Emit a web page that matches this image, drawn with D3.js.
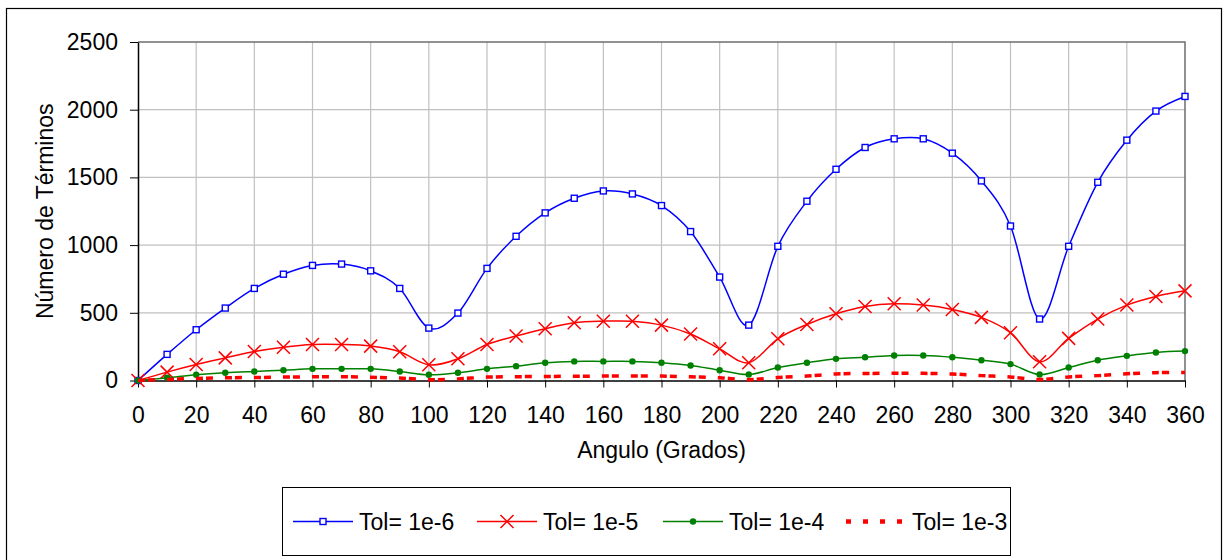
<!DOCTYPE html>
<html>
<head>
<meta charset="utf-8">
<script src="https://cdn.jsdelivr.net/npm/d3@7"></script>
<style>
  html, body { margin: 0; padding: 0; background: #fff; }
  svg { display: block; font-family: "Liberation Sans", Arial, sans-serif; }
</style>
</head>
<body>
<svg id="chart" width="1223" height="560"></svg>
<script>
// ---- data ----
const angles = [0,10,20,30,40,50,60,70,80,90,100,110,120,130,140,150,160,170,180,
                190,200,210,220,230,240,250,260,270,280,290,300,310,320,330,340,350,360];
const tol1e6 = [0,193,375,535,680,785,850,860,810,680,387,498,828,1065,1238,1346,1400,1378,1292,
                1100,764,409,991,1324,1560,1721,1785,1785,1679,1474,1141,454,991,1464,1775,1990,2098];
const tol1e5 = [0,62,118,167,214,246,266,266,254,212,116,160,266,328,382,426,438,438,409,
                343,234,131,308,414,493,547,567,557,525,466,353,138,311,454,557,621,662];
const tol1e4 = [0,20,42,57,67,76,86,86,86,67,42,57,86,106,131,141,141,141,131,
                111,76,44,96,131,160,172,185,185,172,150,121,44,96,150,182,207,217];
const tol1e3 = [0,8,15,20,22,25,27,28,24,18,6,12,25,28,30,31,33,33,33,
                27,20,6,22,33,48,52,53,53,48,36,26,7,26,36,50,58,60];
const seriesNames = ["Tol= 1e-6","Tol= 1e-5","Tol= 1e-4","Tol= 1e-3"];
const xTicks = [0,20,40,60,80,100,120,140,160,180,200,220,240,260,280,300,320,340,360];
const yTicks = [0,500,1000,1500,2000,2500];
const xTitle = "Angulo (Grados)";
const yTitle = "Número de Términos";

// ---- layout ----
const svg = d3.select("#chart");
const P = {left: 138, right: 1185, top: 42, bottom: 380.5};
const x = d3.scaleLinear().domain([0, 360]).range([P.left, P.right]);
const y = d3.scaleLinear().domain([0, 2500]).range([P.bottom, P.top]);
const FS = 23;

// outer frame
svg.append("rect").attr("x", 6.5).attr("y", 8.5).attr("width", 1215).attr("height", 560)
  .attr("fill", "#fff").attr("stroke", "#000").attr("stroke-width", 1.2);

// gridlines
const g = svg.append("g");
g.selectAll("line.vg").data(xTicks.filter(a => a > 0 && a < 360)).join("line")
  .attr("x1", d => x(d)).attr("x2", d => x(d)).attr("y1", P.top).attr("y2", P.bottom)
  .attr("stroke", "#c0c0c0").attr("stroke-width", 1.2);
g.selectAll("line.hg").data(yTicks.filter(v => v > 0 && v < 2500)).join("line")
  .attr("x1", P.left).attr("x2", P.right).attr("y1", d => y(d)).attr("y2", d => y(d))
  .attr("stroke", "#c0c0c0").attr("stroke-width", 1.2);

// plot border (top, right)
svg.append("path")
  .attr("d", `M${P.left},${P.top}H${P.right}V${P.bottom}`)
  .attr("fill", "none").attr("stroke", "#6e6e6e").attr("stroke-width", 1.5);

// axes
const xAxis = d3.axisBottom(x).tickValues(xTicks).tickFormat(d3.format("d"))
  .tickSize(7).tickPadding(19).tickSizeOuter(0);
const yAxis = d3.axisLeft(y).tickValues(yTicks).tickFormat(d3.format("d"))
  .tickSize(8).tickPadding(12).tickSizeOuter(0);
const gx = svg.append("g").attr("transform", `translate(0,${P.bottom})`).call(xAxis);
const gy = svg.append("g").attr("transform", `translate(${P.left},0)`).call(yAxis);
[gx, gy].forEach(a => {
  a.attr("font-size", FS).attr("font-family", "'Liberation Sans', Arial, sans-serif");
  a.selectAll("text").attr("fill", "#000");
  a.selectAll("line").attr("stroke", "#000");
  a.select(".domain").attr("stroke", "#000").attr("stroke-width", 1.5);
});

// titles
svg.append("text").attr("x", (P.left + P.right) / 2).attr("y", 458)
  .attr("text-anchor", "middle").attr("font-size", FS).text(xTitle);
svg.append("text").attr("transform", `translate(53,${(P.top + P.bottom) / 2}) rotate(-90)`)
  .attr("text-anchor", "middle").attr("font-size", FS).text(yTitle);

// series
const line = d3.line().x((d, i) => x(angles[i])).y(d => y(d)).curve(d3.curveCardinal.tension(0));
const plot = svg.append("g");

function drawMarker(sel, type, cx, cy) {
  if (type === "square") {
    sel.append("rect").attr("x", cx - 3).attr("y", cy - 3).attr("width", 6).attr("height", 6)
      .attr("fill", "#fff").attr("stroke", "#0000ff").attr("stroke-width", 1.4);
  } else if (type === "x") {
    const s = 6.5;
    sel.append("path").attr("d", `M${cx - s},${cy - s}L${cx + s},${cy + s}M${cx - s},${cy + s}L${cx + s},${cy - s}`)
      .attr("stroke", "#ff0000").attr("stroke-width", 1.5).attr("fill", "none");
  } else if (type === "dot") {
    sel.append("circle").attr("cx", cx).attr("cy", cy).attr("r", 3.2).attr("fill", "#008000");
  }
}

const specs = [
  {data: tol1e6, color: "#0000ff", width: 1.5, dash: null, marker: "square"},
  {data: tol1e5, color: "#ff0000", width: 1.5, dash: null, marker: "x"},
  {data: tol1e4, color: "#008000", width: 1.5, dash: null, marker: "dot"},
  {data: tol1e3, color: "#ff0000", width: 3.5, dash: "7,3,7,12", marker: null}
];

specs.forEach(s => {
  const p = plot.append("path").datum(s.data).attr("d", line)
    .attr("fill", "none").attr("stroke", s.color).attr("stroke-width", s.width);
  if (s.dash) p.attr("stroke-dasharray", s.dash);
  if (s.marker) {
    const mg = plot.append("g");
    s.data.forEach((v, i) => drawMarker(mg, s.marker, x(angles[i]), y(v)));
  }
});

// legend
const L = {x: 282.5, y: 487.5, w: 728, h: 68};
svg.append("rect").attr("x", L.x).attr("y", L.y).attr("width", L.w).attr("height", L.h)
  .attr("fill", "#fff").attr("stroke", "#000").attr("stroke-width", 1);
const legX = [293, 477, 663, 846];
const cyL = L.y + L.h / 2;
specs.forEach((s, i) => {
  const lg = svg.append("g");
  const x0 = legX[i], x1 = legX[i] + 60;
  const ln = lg.append("line").attr("x1", x0).attr("x2", x1).attr("y1", cyL).attr("y2", cyL)
    .attr("stroke", s.color).attr("stroke-width", s.width);
  if (s.dash) ln.attr("stroke-dasharray", "5,12").attr("stroke-width", 4.5);
  if (s.marker) drawMarker(lg, s.marker, (x0 + x1) / 2, cyL);
  lg.append("text").attr("x", x1 + 6).attr("y", cyL).attr("dy", "0.35em")
    .attr("font-size", FS).text(seriesNames[i]);
});
</script>
</body>
</html>
